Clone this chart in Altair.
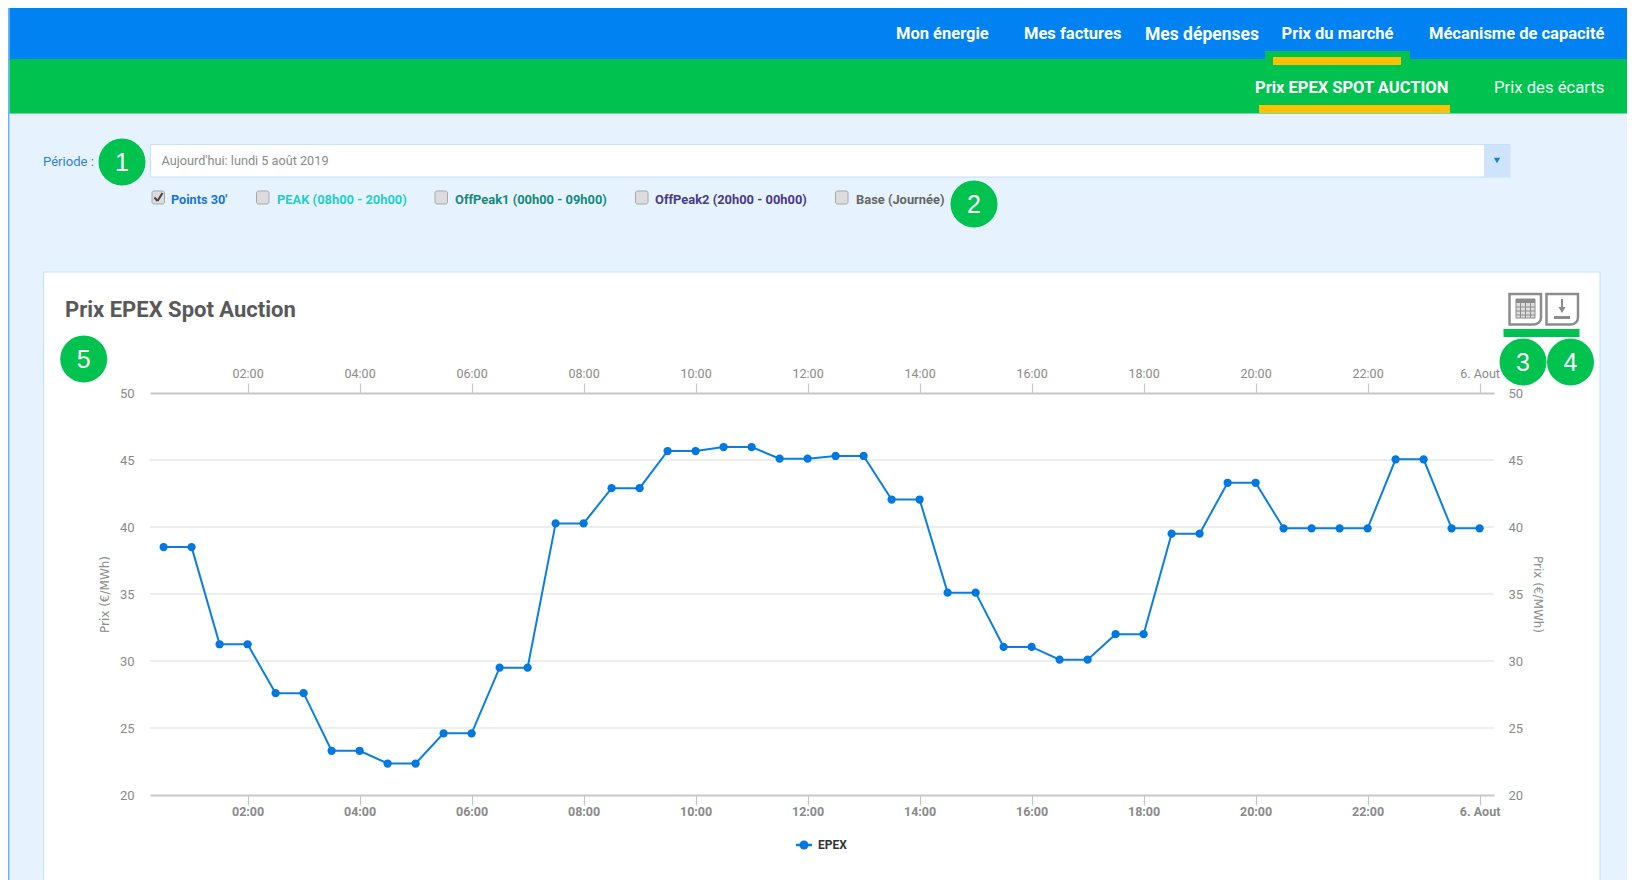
import altair as alt
import pandas as pd

# ---- values ----
HEURES = [0.5, 1, 1.5, 2, 2.5, 3, 3.5, 4, 4.5, 5, 5.5, 6, 6.5, 7, 7.5, 8,
          8.5, 9, 9.5, 10, 10.5, 11, 11.5, 12, 12.5, 13, 13.5, 14, 14.5, 15, 15.5, 16,
          16.5, 17, 17.5, 18, 18.5, 19, 19.5, 20, 20.5, 21, 21.5, 22, 22.5, 23, 23.5, 24]
PRIX = [38.5, 38.5, 31.25, 31.25, 27.6, 27.6, 23.3, 23.3, 22.35, 22.35, 24.6, 24.6,
        29.5, 29.5, 40.27, 40.27, 42.9, 42.9, 45.67, 45.67, 45.97, 45.97, 45.1, 45.1,
        45.3, 45.3, 42.05, 42.05, 35.1, 35.1, 31.05, 31.05, 30.1, 30.1, 32.0, 32.0,
        39.5, 39.5, 43.3, 43.3, 39.9, 39.9, 39.9, 39.9, 45.05, 45.05, 39.9, 39.9]
SERIE = "EPEX"
Y_TICKS = [20, 25, 30, 35, 40, 45, 50]
X_TICKS = [2, 4, 6, 8, 10, 12, 14, 16, 18, 20, 22, 24]
AXIS_TITLE = "Prix (€/MWh)"
NAV = ["Mon énergie", "Mes factures", "Mes dépenses", "Prix du marché", "Mécanisme de capacité"]
SUBNAV = ["Prix EPEX SPOT AUCTION", "Prix des écarts"]
CHECKS = ["Points 30'", "PEAK (08h00 - 20h00)", "OffPeak1 (00h00 - 09h00)",
          "OffPeak2 (20h00 - 00h00)", "Base (Journée)"]
TITLE = "Prix EPEX Spot Auction"
PERIODE = "Période :"
SELECT = "Aujourd'hui: lundi 5 août 2019"

df = pd.DataFrame({"heure": HEURES, "prix": PRIX})
grid_df = pd.DataFrame({"v": Y_TICKS[1:-1]})

# ---- layout: plot area sits at page x 150, y 393 ----
PL, PT = 142, 385
W, H = 1344, 402
PAD = {"left": PL, "top": PT, "right": 1619 - PL - W, "bottom": 872 - PT - H}
GREEN, BLUE = "#00c24e", "#0082f3"
FONT = "Roboto"
one = alt.Data(values=[{"a": 1}])


def X(p):
    return p - 8 - PL


def Y(p):
    return p - 8 - PT


def rect(x0, y0, x1, y1, fill, stroke=None, sw=0, **kw):
    args = dict(fill=fill, **kw)
    if stroke:
        args.update(stroke=stroke, strokeWidth=sw)
    return alt.Chart(one).mark_rect(**args).encode(
        x=alt.value(X(x0)), x2=alt.value(X(x1)), y=alt.value(Y(y0)), y2=alt.value(Y(y1)))


def seg(x0, y0, x1, y1, color, sw=1.0):
    return alt.Chart(one).mark_rule(color=color, strokeWidth=sw).encode(
        x=alt.value(X(x0)), x2=alt.value(X(x1)), y=alt.value(Y(y0)), y2=alt.value(Y(y1)))


def txt(s, x, y, size, color, weight="normal", font=FONT, align="left"):
    return alt.Chart(one).mark_text(
        font=font, fontSize=size, color=color, fontWeight=weight, align=align, baseline="middle"
    ).encode(x=alt.value(X(x)), y=alt.value(Y(y)), text=alt.value(s))


def dot(x, y, r, color):
    return alt.Chart(one).mark_circle(color=color, opacity=1, size=4 * r * r).encode(
        x=alt.value(X(x)), y=alt.value(Y(y)))


def badge(n, x, y):
    return [dot(x, y, 23.5, GREEN),
            txt(str(n), x, y + 1, 25, "white", font="Liberation Sans", align="center")]


def checkbox(x0):
    return rect(x0, 191, x0 + 12.5, 204, "#dcdcdc", "#a8a8a8", 1, cornerRadius=2)


# ---- page chrome ----
layers = [
    rect(9.5, 8, 1635, 888, "#e6f3fe"),
    rect(8, 8, 9.5, 888, "#6cb2f5"),
    rect(9.5, 8, 1635, 60, BLUE),
    rect(9.5, 59, 1635, 113.5, GREEN),
    rect(1265, 51, 1410, 61, GREEN),
    rect(1273, 57, 1401, 65, "#ffc000"),
    rect(1259, 105, 1450, 113, "#ffc000"),
    txt(NAV[0], 896, 34, 16.5, "white", "bold"),
    txt(NAV[1], 1024, 34, 16.5, "white", "bold"),
    txt(NAV[2], 1145, 35, 17.5, "white", "bold"),
    txt(NAV[3], 1281.5, 34, 16.5, "white", "bold"),
    txt(NAV[4], 1429, 34, 16.5, "white", "bold"),
    txt(SUBNAV[0], 1255, 87.5, 16.5, "white", "bold"),
    txt(SUBNAV[1], 1494, 87.5, 16.7, "#eafff2"),
    # period selector
    txt(PERIODE, 43, 162, 13.1, "#2f80d8"),
    rect(150.5, 144.5, 1510, 177, "white", "#c5e0fa", 1),
    rect(1484, 145, 1510, 177, "#cde4fb"),
    alt.Chart(one).mark_point(shape="triangle-down", filled=True, color="#1a7fd9", opacity=1, size=40).encode(
        x=alt.value(X(1497)), y=alt.value(Y(160.5))),
    txt(SELECT, 161.5, 161, 12.7, "#8a8a8a"),
    # check boxes
    checkbox(152), checkbox(256.5), checkbox(435), checkbox(635.5), checkbox(835.5),
    seg(154.5, 197.5, 157.5, 201, "#444", 2),
    seg(157.5, 201, 162.5, 193, "#444", 2),
    txt(CHECKS[0], 171, 200, 12.7, "#1a73d9", "bold"),
    txt(CHECKS[1], 277, 200, 12.9, "#1fcfc7", "bold"),
    txt(CHECKS[2], 455, 200, 12.9, "#148a7e", "bold"),
    txt(CHECKS[3], 655, 200, 12.9, "#4b3a8a", "bold"),
    txt(CHECKS[4], 856, 200, 12.9, "#666666", "bold"),
    # card
    rect(43.5, 272, 1600, 900, "white", "#c5e0fa", 1),
    txt(TITLE, 65, 310, 22, "#595959", "bold"),
    # icons
    rect(1509.5, 294, 1541, 324.5, "white", "#8c8c8c", 2.5, cornerRadiusBottomRight=7),
    rect(1516, 299, 1535, 318, "#dddddd", "#8c8c8c", 1),
    rect(1516, 299, 1535, 303, "#8c8c8c"),
    seg(1520.5, 303, 1520.5, 318, "#8c8c8c", 1), seg(1525.5, 303, 1525.5, 318, "#8c8c8c", 1),
    seg(1530.5, 303, 1530.5, 318, "#8c8c8c", 1),
    seg(1516, 307, 1535, 307, "#8c8c8c", 1), seg(1516, 311, 1535, 311, "#8c8c8c", 1),
    seg(1516, 315, 1535, 315, "#8c8c8c", 1),
    rect(1546.5, 294, 1578, 324.5, "white", "#8c8c8c", 2.5, cornerRadiusBottomRight=7),
    seg(1562, 299, 1562, 310, "#8c8c8c", 2),
    alt.Chart(one).mark_point(shape="triangle-down", filled=True, color="#8c8c8c", opacity=1, size=50).encode(
        x=alt.value(X(1562)), y=alt.value(Y(310))),
    rect(1554, 316, 1570, 319, "#8c8c8c"),
    rect(1503.5, 329, 1579.5, 337, GREEN),
]
layers += badge(1, 122, 162) + badge(2, 974, 204) + badge(3, 1523, 362) + badge(4, 1570.5, 362) + badge(5, 83.7, 359)

# ---- chart ----
xs = alt.Scale(domain=[0.257, 24.257], nice=False, zero=False)
ys = alt.Scale(domain=[20, 50], nice=False, zero=False)
LABEL_EXPR = "datum.value == 24 ? '6. Aout' : (datum.value < 10 ? '0' : '') + datum.value + ':00'"
common = dict(values=X_TICKS, labelExpr=LABEL_EXPR, grid=False, title=None, labelFont="Roboto",
              labelFontSize=12.5, labelColor="#8a8a8a", domainColor="#c8c8c8", domainWidth=2,
              tickColor="#c8c8c8", tickSize=10, tickWidth=1.2, labelFlush=False, labelOverlap=False,
              labelBound=False, zindex=1)
yaxis = dict(values=Y_TICKS, grid=False, domain=False, ticks=False, labelFont="Roboto", labelFontSize=13,
             labelColor="#8a8a8a", labelBound=False, title=AXIS_TITLE,
             titleFont="DejaVu Sans", titleFontSize=12, titleFontWeight="normal", titleColor="#8c8c8c",
             zindex=1)

grid = alt.Chart(grid_df).mark_rule(color="#e8e8e8", strokeWidth=1.3).encode(
    y=alt.Y("v:Q", scale=ys, axis=None), x=alt.value(0), x2=alt.value(W))

line = alt.Chart(df).mark_line(color="#0a7fe0", strokeWidth=2).encode(
    x=alt.X("heure:Q", scale=xs, axis=alt.Axis(orient="top", labelPadding=3, **common)),
    y=alt.Y("prix:Q", scale=ys, axis=alt.Axis(orient="right", titleAngle=90, labelPadding=14, titlePadding=8, **yaxis)))

pts = alt.Chart(df).mark_circle(color="#0078e0", opacity=1, size=68).encode(
    x=alt.X("heure:Q", scale=xs, axis=alt.Axis(orient="bottom", labelPadding=0, labelFontWeight="bold", **common)),
    y=alt.Y("prix:Q", scale=ys, axis=alt.Axis(orient="left", titleAngle=270, labelPadding=16, titlePadding=8, **yaxis)))

legend = [
    seg(796, 845, 812, 845, "#0a7fe0", 2.5),
    dot(804, 845, 4.5, "#0078e0"),
    txt(SERIE, 818, 845, 12, "#333333", "bold"),
]

layers += [grid, line, pts] + legend

chart = (
    alt.layer(*layers)
    .resolve_axis(x="independent", y="independent")
    .properties(width=W, height=H, padding=PAD, autosize=alt.AutoSizeParams(type="none"), background="white")
    .configure_view(stroke=None)
)

chart.save("out.html", embed_options={"renderer": "svg", "actions": False})
